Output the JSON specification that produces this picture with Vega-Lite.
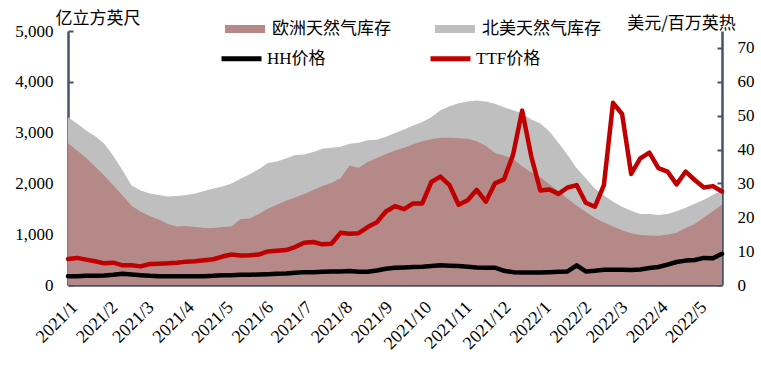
{
  "$schema": "https://vega.github.io/schema/vega-lite/v6.json",
  "width": 654,
  "height": 254,
  "autosize": {"type": "none"},
  "padding": {"left": 68, "top": 31, "right": 39, "bottom": 102},
  "background": "white",
  "config": {
    "view": {"stroke": null},
    "axis": {"labelFont": "Liberation Serif", "labelFontSize": 17, "labelColor": "#000000", "labelOverlap": false, "domainColor": "#44546a", "domainWidth": 2.5, "tickColor": "#44546a", "tickWidth": 2, "grid": false, "titleFont": "Noto Sans CJK SC", "titleFontWeight": "normal", "titleFontSize": 17, "titleColor": "#000000"},
    "legend": {"labelFont": "Liberation Serif, Noto Sans CJK SC", "labelFontSize": 17, "labelColor": "#000000", "padding": 0}
  },
  "data": {"values": [
    {"d":"2021-01-01","eu":2790,"na":3300,"hh":2.6,"ttf":7.7},
    {"d":"2021-01-08","eu":2650,"na":3180,"hh":2.6,"ttf":8.0},
    {"d":"2021-01-15","eu":2500,"na":3040,"hh":2.7,"ttf":7.5},
    {"d":"2021-01-22","eu":2330,"na":2930,"hh":2.7,"ttf":7.0},
    {"d":"2021-01-29","eu":2150,"na":2780,"hh":2.8,"ttf":6.4},
    {"d":"2021-02-05","eu":1960,"na":2540,"hh":3.0,"ttf":6.6},
    {"d":"2021-02-12","eu":1760,"na":2260,"hh":3.3,"ttf":5.8},
    {"d":"2021-02-19","eu":1560,"na":1960,"hh":3.1,"ttf":5.8},
    {"d":"2021-02-26","eu":1440,"na":1860,"hh":2.9,"ttf":5.5},
    {"d":"2021-03-05","eu":1360,"na":1800,"hh":2.7,"ttf":6.2},
    {"d":"2021-03-12","eu":1290,"na":1770,"hh":2.6,"ttf":6.3},
    {"d":"2021-03-19","eu":1200,"na":1740,"hh":2.6,"ttf":6.4},
    {"d":"2021-03-26","eu":1150,"na":1750,"hh":2.6,"ttf":6.6},
    {"d":"2021-04-02","eu":1160,"na":1770,"hh":2.6,"ttf":6.9},
    {"d":"2021-04-09","eu":1140,"na":1800,"hh":2.6,"ttf":7.0},
    {"d":"2021-04-16","eu":1120,"na":1850,"hh":2.6,"ttf":7.3},
    {"d":"2021-04-23","eu":1120,"na":1900,"hh":2.7,"ttf":7.6},
    {"d":"2021-04-30","eu":1140,"na":1940,"hh":2.9,"ttf":8.4},
    {"d":"2021-05-07","eu":1150,"na":2000,"hh":2.9,"ttf":9.0},
    {"d":"2021-05-14","eu":1300,"na":2090,"hh":3.0,"ttf":8.7},
    {"d":"2021-05-21","eu":1310,"na":2180,"hh":3.0,"ttf":8.8},
    {"d":"2021-05-28","eu":1400,"na":2280,"hh":3.1,"ttf":9.0},
    {"d":"2021-06-04","eu":1500,"na":2400,"hh":3.2,"ttf":9.9},
    {"d":"2021-06-11","eu":1580,"na":2430,"hh":3.3,"ttf":10.1},
    {"d":"2021-06-18","eu":1660,"na":2490,"hh":3.4,"ttf":10.3},
    {"d":"2021-06-25","eu":1720,"na":2560,"hh":3.6,"ttf":11.2},
    {"d":"2021-07-02","eu":1790,"na":2570,"hh":3.8,"ttf":12.5},
    {"d":"2021-07-09","eu":1870,"na":2620,"hh":3.8,"ttf":12.7},
    {"d":"2021-07-16","eu":1950,"na":2680,"hh":3.9,"ttf":12.0},
    {"d":"2021-07-23","eu":2010,"na":2700,"hh":4.0,"ttf":12.2},
    {"d":"2021-07-30","eu":2100,"na":2720,"hh":4.0,"ttf":15.4},
    {"d":"2021-08-06","eu":2350,"na":2780,"hh":4.1,"ttf":15.1},
    {"d":"2021-08-13","eu":2310,"na":2800,"hh":3.9,"ttf":15.3},
    {"d":"2021-08-20","eu":2420,"na":2850,"hh":3.9,"ttf":17.1},
    {"d":"2021-08-27","eu":2500,"na":2860,"hh":4.3,"ttf":18.5},
    {"d":"2021-09-03","eu":2580,"na":2920,"hh":4.8,"ttf":21.7},
    {"d":"2021-09-10","eu":2650,"na":2990,"hh":5.1,"ttf":23.3},
    {"d":"2021-09-17","eu":2700,"na":3060,"hh":5.2,"ttf":22.4},
    {"d":"2021-09-24","eu":2770,"na":3140,"hh":5.3,"ttf":24.1},
    {"d":"2021-10-01","eu":2830,"na":3210,"hh":5.4,"ttf":24.1},
    {"d":"2021-10-08","eu":2870,"na":3300,"hh":5.6,"ttf":30.4},
    {"d":"2021-10-15","eu":2900,"na":3440,"hh":5.8,"ttf":32.0},
    {"d":"2021-10-22","eu":2900,"na":3520,"hh":5.7,"ttf":29.5},
    {"d":"2021-10-29","eu":2890,"na":3580,"hh":5.6,"ttf":23.7},
    {"d":"2021-11-05","eu":2880,"na":3610,"hh":5.4,"ttf":25.0},
    {"d":"2021-11-12","eu":2830,"na":3630,"hh":5.2,"ttf":28.1},
    {"d":"2021-11-19","eu":2740,"na":3610,"hh":5.1,"ttf":24.6},
    {"d":"2021-11-26","eu":2600,"na":3570,"hh":5.1,"ttf":30.0},
    {"d":"2021-12-03","eu":2550,"na":3500,"hh":4.2,"ttf":31.2},
    {"d":"2021-12-10","eu":2480,"na":3440,"hh":3.8,"ttf":38.5},
    {"d":"2021-12-17","eu":2340,"na":3380,"hh":3.7,"ttf":51.5},
    {"d":"2021-12-24","eu":2220,"na":3260,"hh":3.7,"ttf":38.0},
    {"d":"2021-12-31","eu":2120,"na":3180,"hh":3.7,"ttf":27.9},
    {"d":"2022-01-07","eu":1980,"na":3020,"hh":3.8,"ttf":28.2},
    {"d":"2022-01-14","eu":1850,"na":2800,"hh":3.9,"ttf":26.9},
    {"d":"2022-01-21","eu":1700,"na":2560,"hh":4.0,"ttf":28.8},
    {"d":"2022-01-28","eu":1560,"na":2300,"hh":5.8,"ttf":29.5},
    {"d":"2022-02-04","eu":1440,"na":2100,"hh":4.0,"ttf":24.3},
    {"d":"2022-02-11","eu":1320,"na":1900,"hh":4.2,"ttf":23.1},
    {"d":"2022-02-18","eu":1230,"na":1760,"hh":4.5,"ttf":29.5},
    {"d":"2022-02-25","eu":1150,"na":1640,"hh":4.5,"ttf":53.8},
    {"d":"2022-03-04","eu":1080,"na":1540,"hh":4.5,"ttf":50.5},
    {"d":"2022-03-11","eu":1020,"na":1460,"hh":4.4,"ttf":32.8},
    {"d":"2022-03-18","eu":985,"na":1400,"hh":4.6,"ttf":37.4},
    {"d":"2022-03-25","eu":975,"na":1400,"hh":5.0,"ttf":39.1},
    {"d":"2022-04-01","eu":970,"na":1380,"hh":5.3,"ttf":34.5},
    {"d":"2022-04-08","eu":990,"na":1400,"hh":6.0,"ttf":33.5},
    {"d":"2022-04-15","eu":1030,"na":1450,"hh":6.8,"ttf":29.7},
    {"d":"2022-04-22","eu":1120,"na":1520,"hh":7.2,"ttf":33.5},
    {"d":"2022-04-29","eu":1200,"na":1600,"hh":7.4,"ttf":31.0},
    {"d":"2022-05-06","eu":1330,"na":1680,"hh":8.0,"ttf":28.8},
    {"d":"2022-05-13","eu":1450,"na":1770,"hh":7.9,"ttf":29.2},
    {"d":"2022-05-20","eu":1580,"na":1860,"hh":9.2,"ttf":27.6}
  ]},
  "encoding": {
    "x": {
      "field": "d", "type": "temporal",
      "scale": {"type": "utc", "domain": [{"year": 2021, "month": 1, "date": 1, "utc": true}, {"year": 2022, "month": 5, "date": 20, "utc": true}]},
      "axis": {
        "title": null, "format": "%Y/%-m", "labelAngle": -45, "labelFontSize": 18, "tickSize": -5, "labelPadding": 18,
        "values": [
          {"year": 2021, "month": 1, "date": 1, "utc": true}, {"year": 2021, "month": 2, "date": 1, "utc": true},
          {"year": 2021, "month": 3, "date": 1, "utc": true}, {"year": 2021, "month": 4, "date": 1, "utc": true},
          {"year": 2021, "month": 5, "date": 1, "utc": true}, {"year": 2021, "month": 6, "date": 1, "utc": true},
          {"year": 2021, "month": 7, "date": 1, "utc": true}, {"year": 2021, "month": 8, "date": 1, "utc": true},
          {"year": 2021, "month": 9, "date": 1, "utc": true}, {"year": 2021, "month": 10, "date": 1, "utc": true},
          {"year": 2021, "month": 11, "date": 1, "utc": true}, {"year": 2021, "month": 12, "date": 1, "utc": true},
          {"year": 2022, "month": 1, "date": 1, "utc": true}, {"year": 2022, "month": 2, "date": 1, "utc": true},
          {"year": 2022, "month": 3, "date": 1, "utc": true}, {"year": 2022, "month": 4, "date": 1, "utc": true},
          {"year": 2022, "month": 5, "date": 1, "utc": true}
        ]
      }
    }
  },
  "layer": [
    {
      "layer": [
        {
          "mark": {"type": "area", "opacity": 1, "interpolate": "linear"},
          "encoding": {
            "y": {"field": "na", "type": "quantitative", "scale": {"domain": [0, 5000], "nice": false},
              "axis": {"title": "亿立方英尺", "titleAngle": 0, "titleAlign": "left", "titleBaseline": "middle", "titleX": -13, "titleY": -13, "values": [0, 1000, 2000, 3000, 4000, 5000], "format": ",d", "tickSize": -5, "labelPadding": 20}},
            "fill": {"datum": "北美天然气库存", "type": "nominal",
              "scale": {"domain": ["欧洲天然气库存", "北美天然气库存"], "range": ["#b48987", "#bfbfbf"]},
              "legend": {
                "title": null, "orient": "none", "legendX": 157, "legendY": -22, "direction": "horizontal",
                "columns": 2, "gridAlign": "all", "columnPadding": 44,
                "symbolType": "M-1,-0.2L1,-0.2L1,0.2L-1,0.2Z", "symbolSize": 1600, "symbolStrokeWidth": 0, "symbolOpacity": 1, "labelOffset": 7,
                "encode": {"symbols": {"update": {"fill": {"signal": "datum.value === '欧洲天然气库存' ? '#d24b4b' : '#bfbfbf'"}, "opacity": {"value": 1}}}}
              }}
          }
        },
        {
          "mark": {"type": "area", "opacity": 1, "interpolate": "linear"},
          "encoding": {
            "y": {"field": "eu", "type": "quantitative"},
            "fill": {"datum": "欧洲天然气库存", "type": "nominal"}
          }
        }
      ]
    },
    {
      "layer": [
        {
          "mark": {"type": "line", "strokeWidth": 4.5, "strokeCap": "round", "strokeJoin": "round"},
          "encoding": {
            "y": {"field": "hh", "type": "quantitative", "scale": {"domain": [0, 75], "nice": false},
              "axis": {"orient": "right", "title": "美元/百万英热", "titleAngle": 0, "titleAlign": "center", "titleBaseline": "middle", "titleX": -41, "titleY": -8, "values": [0, 10, 20, 30, 40, 50, 60, 70], "tickCount": 8, "labelOverlap": false, "tickSize": -5, "labelPadding": 20}},
            "stroke": {"datum": "HH价格", "type": "nominal",
              "scale": {"domain": ["HH价格", "TTF价格"], "range": ["#000000", "#c00000"]},
              "legend": {
                "title": null, "orient": "none", "legendX": 151, "legendY": 5, "direction": "horizontal",
                "columns": 2, "gridAlign": "all", "columnPadding": 88,
                "symbolType": "stroke", "symbolSize": 1600, "symbolStrokeWidth": 5, "labelOffset": 3
              }}
          }
        },
        {
          "mark": {"type": "line", "strokeWidth": 4.5, "strokeCap": "round", "strokeJoin": "round"},
          "encoding": {
            "y": {"field": "ttf", "type": "quantitative",
              "axis": {"orient": "right", "title": "美元/百万英热", "titleAngle": 0, "titleAlign": "center", "titleBaseline": "middle", "titleX": -41, "titleY": -8, "values": [0, 10, 20, 30, 40, 50, 60, 70], "tickCount": 8, "labelOverlap": false, "tickSize": -5, "labelPadding": 20}},
            "stroke": {"datum": "TTF价格", "type": "nominal"}
          }
        }
      ]
    }
  ],
  "resolve": {"scale": {"y": "independent"}}
}
